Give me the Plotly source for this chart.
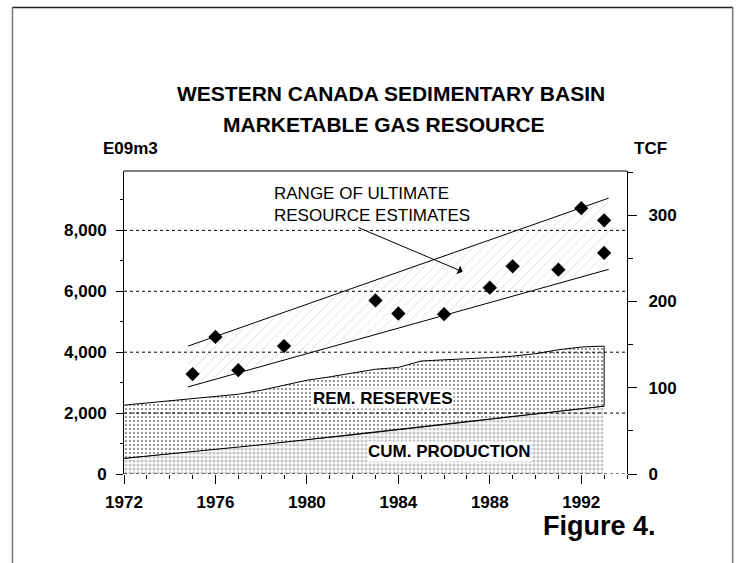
import plotly.graph_objects as go

# ---------------- data ----------------
years = [1972, 1973, 1974, 1975, 1976, 1977, 1978, 1979, 1980, 1981, 1982,
         1983, 1984, 1985, 1986, 1987, 1988, 1989, 1990, 1991, 1992, 1993]
cum_production = [515, 590, 665, 740, 810, 885, 960, 1040, 1120, 1200, 1285,
                  1370, 1450, 1535, 1620, 1710, 1800, 1885, 1975, 2060, 2145, 2230]
rem_reserves = [1745, 1740, 1735, 1720, 1730, 1735, 1790, 1880, 1960, 1990, 2035,
                2070, 2050, 2175, 2130, 2070, 2020, 1985, 1975, 2020, 2025, 1970]

band_years = [1974.8, 1993.2]
band_low = [2860, 6720]
band_high = [4200, 9060]

est_years = [1975, 1976, 1977, 1979, 1983, 1984, 1986, 1988, 1989, 1991, 1992, 1993, 1993]
est_values = [3280, 4500, 3410, 4200, 5700, 5270, 5250, 6120, 6820, 6710, 8730, 8330, 7260]

left_ticks = [0, 2000, 4000, 6000, 8000]
right_ticks = [0, 100, 200, 300]
x_ticks = [1972, 1976, 1980, 1984, 1988, 1992]

E9M3_PER_TCF = 28.317
Y_MAX = 9950

total = [c + r for c, r in zip(cum_production, rem_reserves)]

# ---------------- layout helpers ----------------
FONT = "Liberation Sans, Arial, sans-serif"
W, H = 740, 563
L, R, T, B = 124, 113, 171, 89
PW, PH = W - L - R, H - T - B


def px(x):
    return (x - L) / PW


def py(y):
    return (H - B - y) / PH


fig = go.Figure()

# cumulative production (checker-like pattern)
fig.add_trace(go.Scatter(
    x=years, y=cum_production, mode="lines", fill="tozeroy",
    line=dict(color="black", width=1),
    fillcolor="white",
    fillpattern=dict(shape=".", fgcolor="#8a8a8a", bgcolor="white", size=4, solidity=0.5),
    hoverinfo="skip", showlegend=False))

# remaining reserves (dotted pattern), closed polygon between cum and total
fig.add_trace(go.Scatter(
    x=years + years[::-1], y=total + cum_production[::-1], mode="lines", fill="toself",
    line=dict(color="black", width=1),
    fillcolor="white",
    fillpattern=dict(shape=".", fgcolor="black", bgcolor="white", size=4, solidity=0.22),
    hoverinfo="skip", showlegend=False))

# range of ultimate resource estimates
fig.add_trace(go.Scatter(
    x=band_years, y=band_low, mode="lines",
    line=dict(color="black", width=1), hoverinfo="skip", showlegend=False))
fig.add_trace(go.Scatter(
    x=band_years, y=band_high, mode="lines", fill="tonexty",
    line=dict(color="black", width=1),
    fillcolor="white",
    fillpattern=dict(shape="/", fgcolor="#b4b4b4", bgcolor="white", size=7, solidity=0.12),
    hoverinfo="skip", showlegend=False))

# estimates
fig.add_trace(go.Scatter(
    x=est_years, y=est_values, mode="markers",
    marker=dict(symbol="diamond", size=11, color="black"),
    hoverinfo="skip", showlegend=False))

# invisible trace to bind right axis (TCF)
fig.add_trace(go.Scatter(
    x=years, y=[v / E9M3_PER_TCF for v in total], yaxis="y2", mode="lines",
    line=dict(color="rgba(0,0,0,0)", width=0), hoverinfo="skip", showlegend=False))

tickfont = dict(family=FONT, size=17, color="black", weight=700)

fig.update_layout(
    width=W, height=H,
    margin=dict(l=L, r=R, t=T, b=B, pad=0),
    paper_bgcolor="white", plot_bgcolor="white",
    showlegend=False,
    xaxis=dict(
        range=[1972, 1994], tickvals=x_ticks, ticktext=[str(v) for v in x_ticks],
        ticks="outside", ticklen=9, tickwidth=1, tickcolor="black",
        minor=dict(dtick=1, tick0=1972, ticks="outside", ticklen=4, tickwidth=1,
                   tickcolor="black", showgrid=False),
        showline=False, showgrid=False, zeroline=False,
        tickfont=tickfont, ticklabelstandoff=4,
    ),
    yaxis=dict(
        range=[0, Y_MAX], tickvals=left_ticks, tickformat=",d",
        ticks="outside", ticklen=7, tickwidth=1, tickcolor="black",
        minor=dict(dtick=1000, tick0=0, ticks="outside", ticklen=3, tickwidth=1,
                   tickcolor="black", showgrid=False),
        showline=True, linecolor="black", linewidth=1,
        showgrid=False, zeroline=False,
        tickfont=tickfont, ticklabelstandoff=6,
    ),
    yaxis2=dict(
        range=[0, Y_MAX / E9M3_PER_TCF], overlaying="y", side="right",
        tickvals=right_ticks,
        ticks="outside", ticklen=9, tickwidth=1, tickcolor="black",
        minor=dict(dtick=50, tick0=0, ticks="outside", ticklen=5, tickwidth=1,
                   tickcolor="black", showgrid=False),
        showline=True, linecolor="black", linewidth=1,
        showgrid=False, zeroline=False,
        tickfont=tickfont, ticklabelstandoff=8,
    ),
)

shapes = []
# dotted gridlines on top of fills
for v in left_ticks:
    shapes.append(dict(type="line", xref="paper", yref="y", x0=0, x1=1, y0=v, y1=v,
                       line=dict(color="black", width=1, dash="dot"), layer="above"))
# top border of plot area
shapes.append(dict(type="line", xref="paper", yref="paper", x0=0, x1=1, y0=1, y1=1,
                   line=dict(color="black", width=1), layer="above"))
# page frame
shapes.append(dict(type="line", xref="paper", yref="paper", x0=px(12), x1=px(733),
                   y0=py(7.5), y1=py(7.5), line=dict(color="#222222", width=1.5)))
shapes.append(dict(type="line", xref="paper", yref="paper", x0=px(12.5), x1=px(12.5),
                   y0=py(7), y1=py(563), line=dict(color="#777777", width=1.5)))
shapes.append(dict(type="line", xref="paper", yref="paper", x0=px(732.7), x1=px(732.7),
                   y0=py(7), y1=py(563), line=dict(color="#777777", width=1.5)))
fig.update_layout(shapes=shapes)

ann = []


def text(x, y, s, size, bold=True, **kw):
    d = dict(xref="paper", yref="paper", x=px(x), y=py(y), text=s, showarrow=False,
             xanchor="center", yanchor="middle",
             font=dict(family=FONT, size=size, color="black", weight=700 if bold else 400))
    d.update(kw)
    ann.append(d)


text(391, 93.5, "WESTERN CANADA SEDIMENTARY BASIN", 21)
text(384, 125, "MARKETABLE GAS RESOURCE", 21)
text(130, 148, "E09m3", 17)
text(650, 148, "TCF", 17)
text(599.5, 526, "Figure 4.", 27)
text(271.7, 204, "RANGE OF ULTIMATE<br>RESOURCE ESTIMATES", 17, bold=False,
     xanchor="left", align="left")
text(382.5, 398.3, "REM. RESERVES", 17, bgcolor="white", borderpad=0)
text(449, 451.7, "CUM. PRODUCTION", 17, bgcolor="white", borderpad=0)
ann.append(dict(xref="paper", yref="paper", x=px(462.7), y=py(271.7), text="",
                showarrow=True, ax=-105.7, ay=-44.7, arrowhead=1, arrowsize=1.6,
                arrowwidth=1, arrowcolor="black", standoff=0))
fig.update_layout(annotations=ann)

fig.write_html("out.html", config={"displayModeBar": False},
               post_script="document.body.style.margin='0';")
